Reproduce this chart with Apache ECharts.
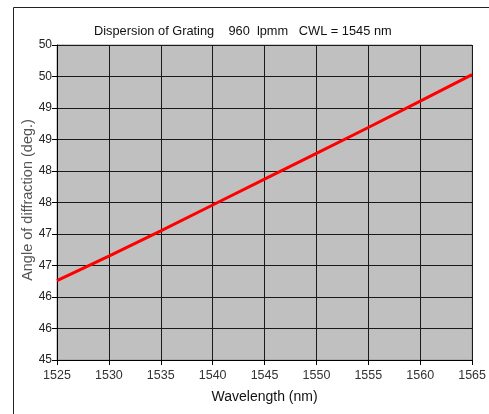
<!DOCTYPE html>
<html>
<head>
<meta charset="utf-8">
<script src="https://cdn.jsdelivr.net/npm/echarts@6/dist/echarts.min.js"></script>
<style>html,body{margin:0;padding:0;background:#fff;}#chart{width:489px;height:414px;}</style>
</head>
<body>
<div id="chart"></div>
<script>
var wavelengths = [1525, 1530, 1535, 1540, 1545, 1550, 1555, 1560, 1565];
var angles = [46.26, 46.65, 47.05, 47.46, 47.87, 48.28, 48.69, 49.11, 49.53];
var yTickLabels = ['45', '46', '46', '47', '47', '48', '48', '49', '49', '50', '50'];
var titleText = 'Dispersion of Grating    960  lpmm   CWL = 1545 nm';
var xAxisName = 'Wavelength (nm)';
var yAxisName = 'Angle of diffraction (deg.)';

var font = '"Liberation Sans", Arial, sans-serif';
var chart = echarts.init(document.getElementById('chart'));
chart.setOption({
  animation: false,
  backgroundColor: '#ffffff',
  title: {
    text: titleText,
    left: 89, top: 20,
    textStyle: {fontFamily: font, fontSize: 12.8, fontWeight: 'normal', color: '#111'}
  },
  graphic: [
    {type: 'line', shape: {x1: 13.5, y1: 7.5, x2: 489, y2: 7.5}, style: {stroke: '#222', lineWidth: 1}},
    {type: 'line', shape: {x1: 13.5, y1: 7.5, x2: 13.5, y2: 414}, style: {stroke: '#222', lineWidth: 1}},
    {type: 'text', x: 28, y: 200, rotation: Math.PI / 2,
     style: {text: yAxisName, fontFamily: font, fontSize: 14.5, fill: '#555',
             align: 'center', verticalAlign: 'middle'}}
  ],
  grid: {
    left: 57, right: 13, top: 45, bottom: 54,
    show: true, backgroundColor: '#c0c0c0', borderColor: '#999', borderWidth: 1
  },
  xAxis: {
    type: 'value', min: 1525, max: 1565, interval: 5,
    name: xAxisName, nameLocation: 'middle', nameGap: 30,
    nameTextStyle: {fontFamily: font, fontSize: 14, color: '#111'},
    axisLine: {show: true, onZero: false, lineStyle: {color: '#000', width: 1}},
    axisTick: {show: true, length: 5, lineStyle: {color: '#000'}},
    axisLabel: {fontFamily: font, fontSize: 12.5, color: '#333', margin: 9,
      formatter: function (v) { return String(v); }},
    splitLine: {show: true, lineStyle: {color: '#1a1a1a', width: 1}}
  },
  yAxis: {
    type: 'value', min: 45, max: 50, interval: 0.5,
    axisLine: {show: true, onZero: false, lineStyle: {color: '#000', width: 1}},
    axisTick: {show: true, length: 5, lineStyle: {color: '#000'}},
    axisLabel: {
      fontFamily: font, fontSize: 12, color: '#222', margin: 5,
      formatter: function (v, i) { return yTickLabels[i]; }
    },
    splitLine: {show: true, lineStyle: {color: '#1a1a1a', width: 1}}
  },
  series: [{
    type: 'line',
    data: wavelengths.map(function (w, i) { return [w, angles[i]]; }),
    showSymbol: false, smooth: false,
    lineStyle: {color: '#ff0000', width: 3}
  }]
});
</script>
</body>
</html>
